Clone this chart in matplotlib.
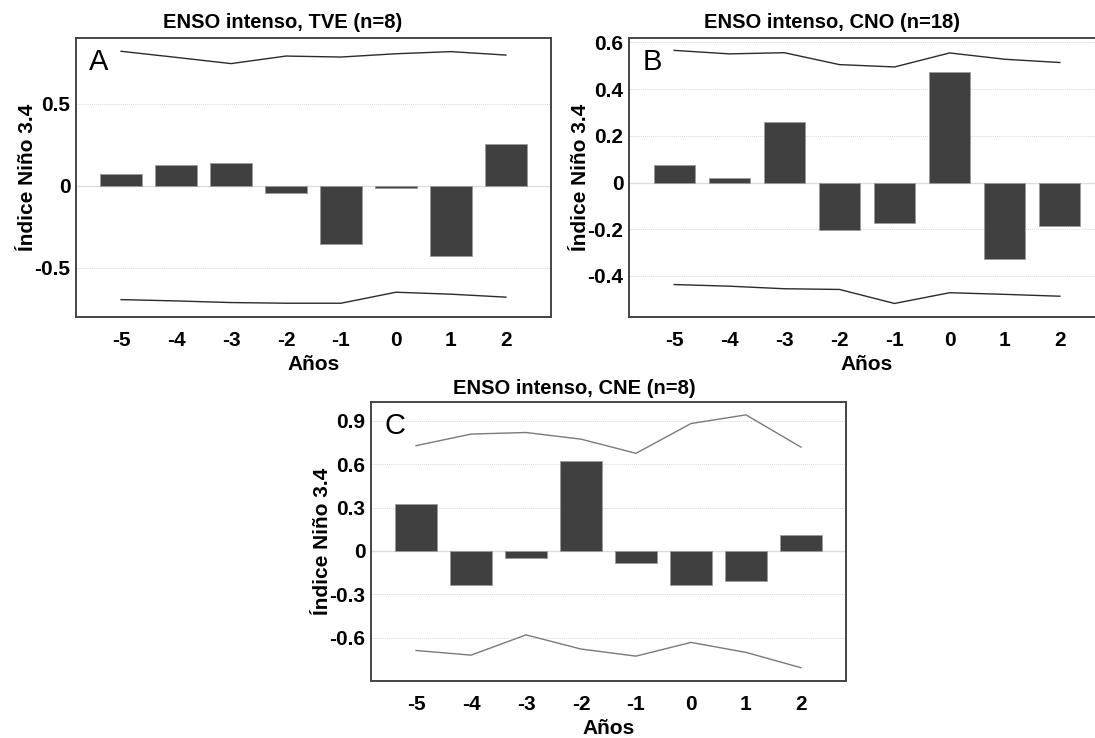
import matplotlib
matplotlib.use('Agg')
import matplotlib.pyplot as plt
import numpy as np

plt.rcParams['font.family'] = ['Liberation Sans', 'DejaVu Sans']

years = [-5, -4, -3, -2, -1, 0, 1, 2]

# Panel A - TVE
tve_bars = [0.071, 0.129, 0.141, -0.042, -0.357, -0.014, -0.427, 0.254]
tve_upper = [0.819, 0.782, 0.744, 0.790, 0.784, 0.804, 0.817, 0.796]
tve_lower = [-0.694, -0.702, -0.712, -0.716, -0.716, -0.649, -0.661, -0.679]

# Panel B - CNO
cno_bars = [0.074, 0.019, 0.261, -0.205, -0.174, 0.475, -0.328, -0.187]
cno_upper = [0.566, 0.551, 0.556, 0.505, 0.495, 0.555, 0.528, 0.514]
cno_lower = [-0.437, -0.444, -0.455, -0.458, -0.518, -0.472, -0.479, -0.487]

# Panel C - CNE
cne_bars = [0.321, -0.239, -0.050, 0.622, -0.087, -0.239, -0.211, 0.110]
cne_upper = [0.728, 0.808, 0.819, 0.773, 0.675, 0.881, 0.941, 0.718]
cne_lower = [-0.689, -0.721, -0.581, -0.679, -0.728, -0.633, -0.702, -0.808]

W, H = 1095, 738
fig = plt.figure(figsize=(W / 100, H / 100), dpi=100)


def make_axes(left, top, right, bottom):
    return fig.add_axes([left / W, 1 - bottom / H, (right - left) / W, (bottom - top) / H])


panels = [
    # box in pixels, title centre (px), title, letter, data, ylim, yticks, yticklabels, line colour
    ((76, 38, 551, 317), (283, 23), 'ENSO intenso, TVE (n=8)', 'A', tve_bars, tve_upper, tve_lower,
     (-0.80, 0.90), [-0.5, 0, 0.5], ['-0.5', '0', '0.5'], '#2b2b2b'),
    ((629, 38, 1105, 317), (832, 23), 'ENSO intenso, CNO (n=18)', 'B', cno_bars, cno_upper, cno_lower,
     (-0.576, 0.619), [-0.4, -0.2, 0, 0.2, 0.4, 0.6], ['-0.4', '-0.2', '0', '0.2', '0.4', '0.6'], '#2b2b2b'),
    ((371, 402, 846, 681), (574, 388), 'ENSO intenso, CNE (n=8)', 'C', cne_bars, cne_upper, cne_lower,
     (-0.90, 1.03), [-0.6, -0.3, 0, 0.3, 0.6, 0.9], ['-0.6', '-0.3', '0', '0.3', '0.6', '0.9'], '#7a7a7a'),
]

for box, tpos, title, letter, bars, upper, lower, ylim, yt, ytl, lc in panels:
    ax = make_axes(*box)
    for y in yt:
        if y != 0:
            ax.axhline(y, color='#d8d8d8', lw=0.7, ls=(0, (1, 1)), zorder=0)
    ax.axhline(0, color='#dcdcdc', lw=1.0, zorder=0)
    ax.bar(years, bars, width=0.75, color='#404040', edgecolor='#9a9a9a', linewidth=0.6, zorder=2)
    ax.plot(years, upper, color=lc, lw=1.0, zorder=3)
    ax.plot(years, lower, color=lc, lw=1.0, zorder=3)
    ax.set_xlim(-5.82, 2.82)
    ax.set_ylim(*ylim)
    ax.set_xticks(years)
    ax.set_xticklabels([str(y) for y in years], fontweight='bold', fontsize=15)
    ax.set_yticks(yt)
    ax.set_yticklabels(ytl, fontweight='bold', fontsize=15)
    ax.tick_params(length=0)
    ax.tick_params(axis='y', pad=4)
    ax.tick_params(axis='x', pad=10)
    for s in ax.spines.values():
        s.set_color('#444444')
        s.set_linewidth(1.4)
    fig.text(tpos[0] / W, 1 - tpos[1] / H, title, fontsize=14.5, fontweight='bold',
             ha='center', va='center')
    ax.set_xlabel('Años', fontsize=15, fontweight='bold', labelpad=4)
    ax.set_ylabel('Índice Niño 3.4', fontsize=15, fontweight='bold', labelpad=-2)
    ax.text(0.028, 0.965, letter, transform=ax.transAxes, fontsize=21, va='top', ha='left')

fig.savefig('out.png', dpi=100)
